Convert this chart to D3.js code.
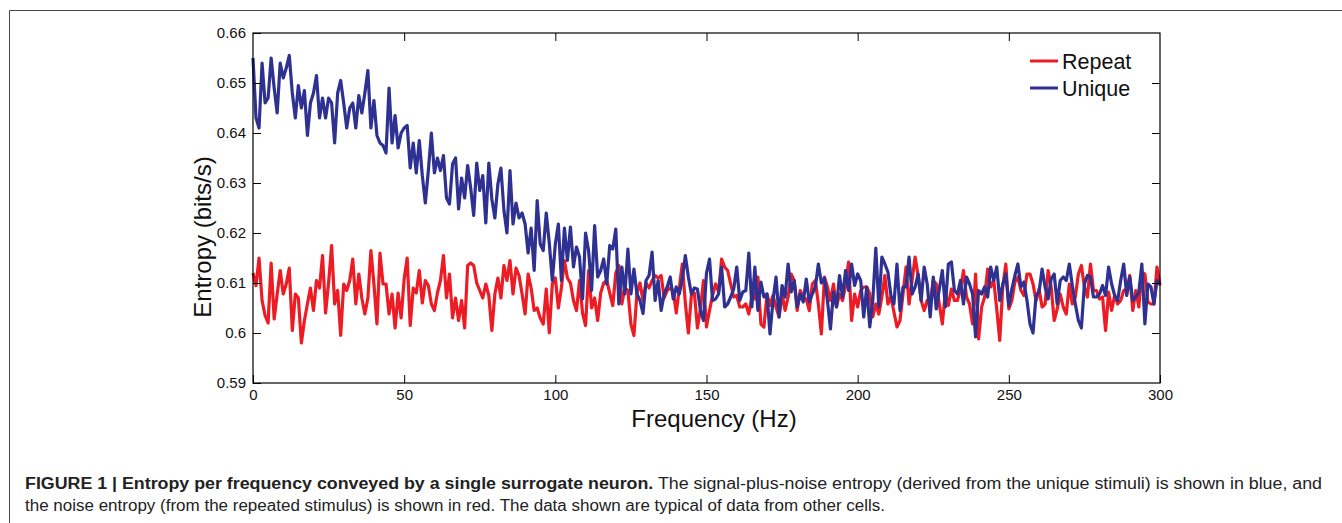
<!DOCTYPE html>
<html>
<head>
<meta charset="utf-8">
<script src="https://cdn.jsdelivr.net/npm/d3@7"></script>
<style>
  body { margin: 0; background: #fff; }
  svg { display: block; font-family: "Liberation Sans", Arial, sans-serif; }
</style>
</head>
<body>
<div id="chart"></div>
<script>
// Frequencies (Hz), one sample per Hz
const freqs = d3.range(0, 301);

// Noise entropy (repeated stimulus), bits/s
const repeatVals = [
  0.6120,0.6095,0.6150,0.6065,0.6035,0.6020,0.6140,0.6028,0.6078,0.6125,
  0.6078,0.6098,0.6130,0.6005,0.6078,0.6070,0.5980,0.6025,0.6058,0.6090,
  0.6045,0.6105,0.6090,0.6155,0.6040,0.6100,0.6175,0.6058,0.6085,0.5995,
  0.6098,0.6085,0.6105,0.6148,0.6058,0.6118,0.6070,0.6038,0.6070,0.6165,
  0.6098,0.6018,0.6160,0.6098,0.6098,0.6038,0.6078,0.6010,0.6080,0.6030,
  0.6108,0.6150,0.6015,0.6090,0.6080,0.6125,0.6060,0.6105,0.6095,0.6058,
  0.6045,0.6080,0.6105,0.6155,0.6070,0.6118,0.6030,0.6070,0.6025,0.6065,
  0.6010,0.6135,0.6140,0.6135,0.6100,0.6085,0.6070,0.6098,0.6075,0.6005,
  0.6078,0.6110,0.6070,0.6135,0.6105,0.6145,0.6078,0.6130,0.6115,0.6078,
  0.6038,0.6118,0.6090,0.6045,0.6050,0.6030,0.6018,0.6088,0.6000,0.6098,
  0.6110,0.6050,0.6090,0.6145,0.6110,0.6100,0.6065,0.6045,0.6105,0.6040,
  0.6015,0.6125,0.6050,0.6070,0.6025,0.6080,0.6100,0.6105,0.6080,0.6055,
  0.6120,0.6135,0.6058,0.6090,0.6085,0.6018,0.5995,0.6080,0.6100,0.6065,
  0.6100,0.6090,0.6105,0.6115,0.6110,0.6115,0.6070,0.6085,0.6090,0.6085,
  0.6040,0.6090,0.6138,0.6060,0.6000,0.6075,0.6080,0.6010,0.6048,0.6105,
  0.6012,0.6045,0.6075,0.6098,0.6082,0.6148,0.6132,0.6125,0.6098,0.6072,
  0.6075,0.6052,0.6052,0.6058,0.6038,0.6072,0.6068,0.6112,0.6018,0.6012,
  0.6078,0.6055,0.6075,0.6052,0.6032,0.6078,0.6045,0.6072,0.6118,0.6105,
  0.6045,0.6085,0.6072,0.6068,0.6045,0.6098,0.6105,0.6058,0.5998,0.6112,
  0.6092,0.6065,0.6098,0.6052,0.6078,0.6065,0.6095,0.6142,0.6025,0.6078,
  0.6052,0.6085,0.6092,0.6092,0.6078,0.6032,0.6058,0.6038,0.6072,0.6115,
  0.6058,0.6072,0.6042,0.6012,0.6025,0.6078,0.6132,0.6058,0.6105,0.6152,
  0.6115,0.6065,0.6045,0.6065,0.6062,0.6105,0.6098,0.6058,0.6018,0.6082,
  0.6055,0.6088,0.6065,0.6065,0.6088,0.6125,0.6072,0.6058,0.6018,0.6118,
  0.5988,0.6052,0.6072,0.6128,0.6092,0.6105,0.6048,0.5985,0.6092,0.6138,
  0.6048,0.6065,0.6102,0.6112,0.6085,0.6075,0.6118,0.6118,0.6098,0.6065,
  0.6088,0.6052,0.6058,0.6125,0.6092,0.6025,0.6048,0.6078,0.6052,0.6038,
  0.6098,0.6058,0.6072,0.6118,0.6135,0.6092,0.6072,0.6138,0.6085,0.6085,
  0.6068,0.6072,0.6005,0.6082,0.6045,0.6075,0.6058,0.6065,0.6085,0.6088,
  0.6115,0.6045,0.6085,0.6052,0.6122,0.6118,0.6062,0.6058,0.6058,0.6132,
  0.6095
];

// Signal-plus-noise entropy (unique stimuli), bits/s
const uniqueVals = [
  0.6550,0.6430,0.6410,0.6540,0.6460,0.6470,0.6550,0.6490,0.6440,0.6540,
  0.6510,0.6530,0.6555,0.6480,0.6430,0.6495,0.6450,0.6485,0.6395,0.6460,
  0.6480,0.6515,0.6430,0.6470,0.6430,0.6470,0.6460,0.6380,0.6480,0.6505,
  0.6460,0.6410,0.6450,0.6460,0.6410,0.6475,0.6440,0.6480,0.6525,0.6410,
  0.6465,0.6395,0.6380,0.6375,0.6360,0.6490,0.6380,0.6435,0.6370,0.6400,
  0.6410,0.6415,0.6330,0.6380,0.6320,0.6385,0.6315,0.6260,0.6325,0.6400,
  0.6320,0.6350,0.6325,0.6355,0.6270,0.6258,0.6338,0.6350,0.6248,0.6310,
  0.6270,0.6335,0.6290,0.6235,0.6340,0.6285,0.6315,0.6220,0.6340,0.6268,
  0.6230,0.6298,0.6330,0.6245,0.6200,0.6325,0.6218,0.6260,0.6230,0.6240,
  0.6218,0.6160,0.6210,0.6125,0.6265,0.6178,0.6165,0.6240,0.6180,0.6105,
  0.6178,0.6218,0.6105,0.6210,0.6145,0.6212,0.6132,0.6172,0.6152,0.6068,
  0.6200,0.6165,0.6085,0.6215,0.6112,0.6125,0.6148,0.6098,0.6175,0.6168,
  0.6208,0.6058,0.6132,0.6078,0.6168,0.6078,0.6128,0.6078,0.6065,0.6039,
  0.6105,0.6115,0.6162,0.6065,0.6105,0.6045,0.6078,0.6092,0.6112,0.6068,
  0.6092,0.6078,0.6108,0.6155,0.6112,0.6078,0.6090,0.6088,0.6045,0.6025,
  0.6120,0.6148,0.6065,0.6068,0.6078,0.6132,0.6052,0.6058,0.6072,0.6088,
  0.6132,0.6065,0.6082,0.6085,0.6160,0.6052,0.6132,0.6045,0.6102,0.6072,
  0.6078,0.5998,0.6065,0.6112,0.6032,0.6095,0.6072,0.6138,0.6082,0.6105,
  0.6052,0.6078,0.6062,0.6108,0.6062,0.6078,0.6092,0.6138,0.6100,0.6110,
  0.6065,0.6008,0.6082,0.6052,0.6115,0.6072,0.6125,0.6085,0.6138,0.6095,
  0.6118,0.6105,0.6032,0.6092,0.6012,0.6065,0.6170,0.6052,0.6152,0.6138,
  0.6122,0.6075,0.6058,0.6138,0.6045,0.6092,0.6092,0.6152,0.6078,0.6092,
  0.6118,0.6065,0.6132,0.6098,0.6032,0.6112,0.6048,0.6088,0.6125,0.6052,
  0.6138,0.6142,0.6085,0.6078,0.6105,0.6058,0.6112,0.6098,0.6078,0.5992,
  0.6085,0.6078,0.6092,0.6072,0.6132,0.6105,0.6132,0.6065,0.6098,0.6118,
  0.6055,0.6088,0.6115,0.6138,0.6092,0.6102,0.6065,0.6018,0.6000,0.6075,
  0.6082,0.6128,0.6092,0.6068,0.6108,0.6118,0.6058,0.6105,0.6112,0.6105,
  0.6138,0.6095,0.6058,0.6025,0.6010,0.6098,0.6115,0.6112,0.6072,0.6072,
  0.6078,0.6095,0.6075,0.6132,0.6098,0.6075,0.6065,0.6105,0.6138,0.6075,
  0.6112,0.6065,0.6072,0.6082,0.6138,0.6018,0.6098,0.6092,0.6058,0.6105,
  0.6098
];

const xTicks = [0, 50, 100, 150, 200, 250, 300];
const yTicks = [0.59, 0.60, 0.61, 0.62, 0.63, 0.64, 0.65, 0.66];
const yTickLabels = ["0.59", "0.6", "0.61", "0.62", "0.63", "0.64", "0.65", "0.66"];

const seriesNames = ["Repeat", "Unique"];
const seriesColors = ["#ed1c24", "#2e3192"];

const W = 1342, H = 523;
const plot = { left: 253, right: 1160, top: 33, bottom: 383 };

const svg = d3.select("#chart").append("svg")
  .attr("width", W)
  .attr("height", H);

svg.append("rect").attr("width", W).attr("height", H).attr("fill", "#fff");

// outer figure frame (left and top edges)
svg.append("path")
  .attr("d", `M9.5,${H} V10.5 H${W}`)
  .attr("fill", "none")
  .attr("stroke", "#444")
  .attr("stroke-width", 1);

const x = d3.scaleLinear().domain([0, 300]).range([plot.left, plot.right]);
const y = d3.scaleLinear().domain([0.59, 0.66]).range([plot.bottom, plot.top]);

// lines
const line = d3.line()
  .x((d, i) => x(freqs[i]))
  .y(d => y(d));

[repeatVals, uniqueVals].forEach((vals, k) => {
  svg.append("path")
    .datum(vals)
    .attr("fill", "none")
    .attr("stroke", seriesColors[k])
    .attr("stroke-width", 3.2)
    .attr("stroke-linejoin", "round")
    .attr("d", line);
});

// axes with inward ticks, box style
const tickLen = 8;
const styleAxis = g => {
  g.select(".domain").remove();
  g.selectAll(".tick line").attr("stroke", "#000");
  g.selectAll(".tick text").attr("fill", "#111").style("font-size", "15px");
};

svg.append("g")
  .attr("transform", `translate(0,${plot.bottom})`)
  .call(d3.axisBottom(x).tickValues(xTicks).tickSize(-tickLen).tickPadding(6))
  .call(styleAxis);

svg.append("g")
  .attr("transform", `translate(0,${plot.top})`)
  .call(d3.axisTop(x).tickValues(xTicks.slice(1, -1)).tickSize(-tickLen).tickFormat(""))
  .call(styleAxis);

svg.append("g")
  .attr("transform", `translate(${plot.left},0)`)
  .call(d3.axisLeft(y).tickValues(yTicks).tickSize(-tickLen).tickPadding(7)
    .tickFormat((d, i) => yTickLabels[i]))
  .call(styleAxis);

svg.append("g")
  .attr("transform", `translate(${plot.right},0)`)
  .call(d3.axisRight(y).tickValues(yTicks.slice(1, -1)).tickSize(-tickLen).tickFormat(""))
  .call(styleAxis);

svg.append("rect")
  .attr("x", plot.left).attr("y", plot.top)
  .attr("width", plot.right - plot.left).attr("height", plot.bottom - plot.top)
  .attr("fill", "none").attr("stroke", "#000").attr("stroke-width", 1.2);

// axis titles
svg.append("text")
  .attr("x", 714).attr("y", 427)
  .attr("text-anchor", "middle")
  .style("font-size", "24px").attr("fill", "#111")
  .text("Frequency (Hz)");

svg.append("text")
  .attr("transform", "translate(211,237) rotate(-90)")
  .attr("text-anchor", "middle")
  .style("font-size", "24px").attr("fill", "#111")
  .text("Entropy (bits/s)");

// legend
const legend = svg.append("g").attr("transform", "translate(1030,61)");
seriesNames.forEach((name, i) => {
  const g = legend.append("g").attr("transform", `translate(0,${i * 27})`);
  g.append("line").attr("x1", 0).attr("x2", 28).attr("y1", 0).attr("y2", 0)
    .attr("stroke", seriesColors[i]).attr("stroke-width", 3);
  g.append("text").attr("x", 32).attr("y", 8)
    .style("font-size", "21.5px").attr("fill", "#111").text(name);
});

// caption (condensed face approximated by squeezing to the measured widths)
const cap1 = svg.append("text").attr("x", 25).attr("y", 489)
  .style("font-size", "16px").attr("fill", "#222")
  .attr("textLength", 1297).attr("lengthAdjust", "spacingAndGlyphs");
cap1.append("tspan").style("font-weight", "bold")
  .text("FIGURE 1 | Entropy per frequency conveyed by a single surrogate neuron.");
cap1.append("tspan")
  .text(" The signal-plus-noise entropy (derived from the unique stimuli) is shown in blue, and");

svg.append("text").attr("x", 25).attr("y", 511)
  .style("font-size", "16px").attr("fill", "#222")
  .attr("textLength", 860).attr("lengthAdjust", "spacingAndGlyphs")
  .text("the noise entropy (from the repeated stimulus) is shown in red. The data shown are typical of data from other cells.");
</script>
</body>
</html>
